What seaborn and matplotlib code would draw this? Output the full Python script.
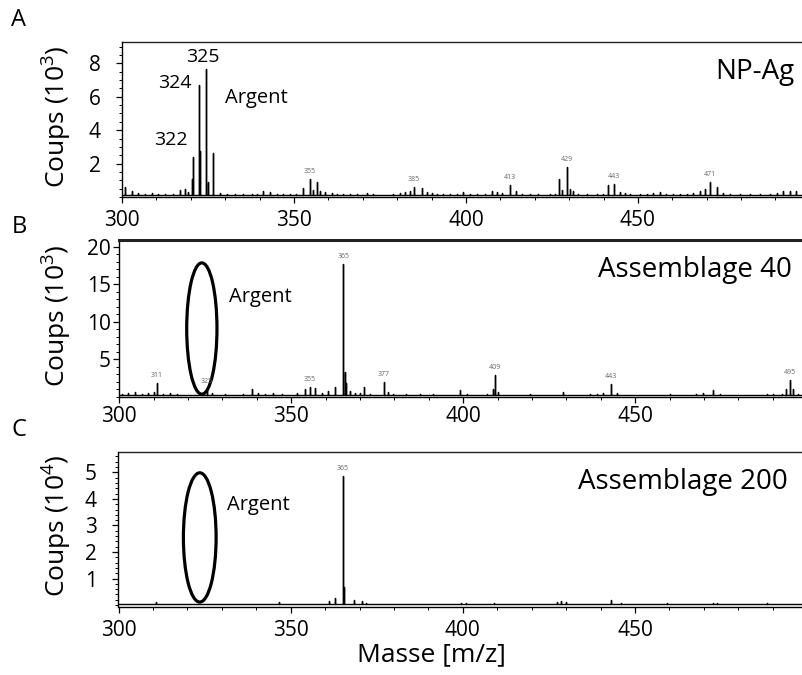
import matplotlib
matplotlib.use("Agg")
import matplotlib.pyplot as plt
import numpy as np
import pandas as pd
import seaborn as sns
from matplotlib.patches import Ellipse
from matplotlib.ticker import MultipleLocator, FixedLocator

# Spectre A : NP-Ag (coups en 10^3)
mz_a = [300.9, 302.8, 304.7, 306.7, 308.6, 310.6, 312.5, 314.9, 316.9, 318.3,
        319.3, 320.4, 320.6, 322.5, 322.7, 324.3, 325.1, 326.5, 328.5, 330.4,
        332.8, 335.3, 337.7, 339.2, 341.1, 343.0, 345.0, 346.9, 348.8, 350.7,
        352.7, 354.7, 355.6, 356.7, 357.6, 359.0, 361.0, 362.4, 364.3, 366.3,
        368.2, 371.1, 373.1, 376.0, 378.9, 380.8, 382.3, 383.7, 384.9, 387.1,
        388.6, 390.0, 391.5, 393.4, 395.3, 397.3, 399.2, 401.2, 403.1, 405.5,
        407.5, 408.9, 410.4, 412.8, 414.7, 416.2, 418.6, 421.0, 424.4, 425.9,
        427.0, 427.8, 429.3, 430.2, 431.2, 432.6, 435.1, 438.0, 439.9, 441.4,
        443.0, 444.8, 446.2, 447.7, 450.6, 452.5, 454.5, 456.4, 458.3, 460.3,
        462.2, 464.2, 466.1, 468.0, 469.5, 470.9, 472.9, 474.8, 476.7, 479.7,
        482.6, 485.5, 488.4, 490.3, 492.2, 494.2, 496.1]
counts_a = [0.6, 0.35, 0.25, 0.2, 0.25, 0.2, 0.2, 0.2, 0.4, 0.45,
            0.3, 1.1, 2.4, 6.7, 2.75, 7.66, 0.9, 2.65, 0.25, 0.2,
            0.2, 0.2, 0.2, 0.2, 0.35, 0.3, 0.2, 0.2, 0.2, 0.15,
            0.55, 1.08, 0.4, 0.92, 0.35, 0.3, 0.25, 0.2, 0.2, 0.15,
            0.2, 0.25, 0.15, 0.1, 0.15, 0.25, 0.3, 0.35, 0.58, 0.55,
            0.3, 0.25, 0.2, 0.2, 0.2, 0.15, 0.3, 0.2, 0.15, 0.15,
            0.35, 0.3, 0.25, 0.72, 0.35, 0.2, 0.15, 0.15, 0.15, 0.2,
            1.08, 0.4, 1.81, 0.45, 0.35, 0.2, 0.15, 0.15, 0.2, 0.7,
            0.8, 0.3, 0.25, 0.15, 0.15, 0.2, 0.25, 0.3, 0.2, 0.2,
            0.15, 0.2, 0.25, 0.35, 0.45, 0.92, 0.6, 0.25, 0.15, 0.15,
            0.15, 0.15, 0.2, 0.25, 0.35, 0.35, 0.35]
tags_a = ["355", "385", "413", "429", "443", "471"]
tag_mz_a = [354.7, 384.9, 412.8, 429.3, 443.0, 470.9]

# Spectre B : Assemblage 40 (coups en 10^3)
mz_b = [300.7, 302.6, 304.6, 306.5, 308.4, 310.2, 311.0, 312.8, 314.7, 316.7,
        318.1, 320.6, 324.0, 325.4, 326.9, 328.8, 330.7, 333.1, 336.0, 338.5,
        340.4, 342.4, 344.8, 347.2, 349.1, 351.6, 354.0, 355.4, 356.9, 358.8,
        360.8, 362.7, 365.1, 365.5, 366.0, 367.1, 368.5, 370.0, 371.2, 372.9,
        374.8, 377.0, 378.2, 379.7, 381.6, 383.5, 385.5, 387.4, 389.4, 391.3,
        393.2, 395.2, 397.1, 399.0, 401.0, 402.9, 404.9, 406.8, 408.7, 409.2,
        410.2, 412.1, 414.5, 417.0, 419.4, 421.8, 424.2, 426.7, 429.1, 431.0,
        433.0, 434.9, 436.8, 438.8, 440.7, 442.9, 444.6, 446.5, 448.5, 450.4,
        452.3, 454.3, 456.2, 458.1, 460.1, 462.0, 464.0, 465.9, 467.8, 469.8,
        472.7, 474.6, 476.6, 478.5, 480.4, 482.4, 484.3, 486.3, 488.2, 490.1,
        492.6, 494.0, 495.0, 495.9, 497.4]
counts_b = [0.4, 0.5, 0.6, 0.4, 0.5, 0.6, 1.8, 0.4, 0.5, 0.4,
            0.3, 0.3, 0.4, 1.0, 0.5, 0.3, 0.4, 0.3, 0.4, 1.0,
            0.5, 0.4, 0.5, 0.4, 0.3, 0.5, 1.0, 1.35, 1.2, 0.5,
            0.8, 1.3, 17.7, 3.3, 1.9, 0.8, 0.5, 0.5, 1.3, 0.4,
            0.3, 2.0, 0.6, 0.4, 0.3, 0.4, 0.3, 0.4, 0.3, 0.4,
            0.3, 0.3, 0.3, 0.9, 0.4, 0.3, 0.3, 0.4, 1.0, 2.9,
            0.6, 0.3, 0.3, 0.3, 0.4, 0.3, 0.3, 0.3, 0.7, 0.3,
            0.3, 0.3, 0.4, 0.4, 0.5, 1.7, 0.5, 0.3, 0.3, 0.3,
            0.3, 0.3, 0.3, 0.3, 0.4, 0.3, 0.3, 0.3, 0.4, 0.5,
            0.9, 0.4, 0.3, 0.3, 0.3, 0.3, 0.3, 0.3, 0.4, 0.4,
            0.4, 1.1, 2.2, 1.0, 0.4]
tags_b = ["311", "325", "355", "365", "377", "409", "443", "495"]
tag_mz_b = [311.0, 325.4, 355.4, 365.1, 377.0, 409.2, 442.9, 495.0]

# Spectre C : Assemblage 200 (coups en 10^4)
mz_c = [311.0, 338.0, 346.7, 361.0, 362.9, 365.1, 365.5, 368.3, 370.7, 372.0,
        384.5, 387.5, 399.5, 401.0, 409.2, 427.4, 428.5, 430.0, 443.0, 445.9,
        459.2, 472.8, 473.8, 488.2]
counts_c = [0.1, 0.05, 0.1, 0.15, 0.25, 4.86, 0.7, 0.2, 0.15, 0.08,
            0.05, 0.05, 0.08, 0.08, 0.08, 0.12, 0.15, 0.1, 0.2, 0.08,
            0.08, 0.08, 0.08, 0.08]
tags_c = ["365"]
tag_mz_c = [365.1]

floors = [0.12, 0.25, 0.03]
titles = ["NP-Ag", "Assemblage 40", "Assemblage 200"]
letters = ["A", "B", "C"]
ylabels = ["Coups (10$^{3}$)", "Coups (10$^{3}$)", "Coups (10$^{4}$)"]
yticks = [[2, 4, 6, 8], [5, 10, 15, 20], [1, 2, 3, 4, 5]]
xticks = [300, 350, 400, 450]


def stick_profile(mz, counts, floor, xmax):
    xs, ys = [300.0], [floor]
    for m, v in zip(mz, counts):
        xs += [m, m, m]
        ys += [floor, v, floor]
    xs.append(xmax)
    ys.append(floor)
    return pd.DataFrame({"mz": xs, "counts": ys})


sns.set_theme(style="ticks")
plt.rcParams["font.family"] = ["Open Sans", "DejaVu Sans"]
plt.rcParams["mathtext.fontset"] = "custom"
plt.rcParams["mathtext.rm"] = "Open Sans"
plt.rcParams["mathtext.it"] = "Open Sans:italic"
plt.rcParams["mathtext.bf"] = "Open Sans:bold"
plt.rcParams["text.color"] = "black"
plt.rcParams["axes.labelcolor"] = "black"
plt.rcParams["xtick.color"] = "black"
plt.rcParams["ytick.color"] = "black"

W, H = 803, 675
fig = plt.figure(figsize=(W / 100, H / 100), dpi=100)

# position des axes en pixels : gauche, bas, haut ; limites
panels = [
    dict(left=122, bottom=197, top=42, xmax=498.0, ylim=(0, 9.28), minor=0.5,
         pad=11, xpad=5, top_lw=1.0, title_xy=(0.988, 0.806)),
    dict(left=119.3, bottom=396.8, top=240, xmax=498.8, ylim=(0, 20.9), minor=1,
         pad=1.5, xpad=2, top_lw=2.2, title_xy=(0.983, 0.809)),
    dict(left=118.5, bottom=606.7, top=451.7, xmax=498.8, ylim=(-0.06, 5.78), minor=0.2,
         pad=11, xpad=5, top_lw=1.0, title_xy=(0.978, 0.806)),
]
datasets = [(mz_a, counts_a, tags_a, tag_mz_a),
            (mz_b, counts_b, tags_b, tag_mz_b),
            (mz_c, counts_c, tags_c, tag_mz_c)]
letter_y = [20, 227, 430]

axes = []
for i, (p, (mz, cnt, tags, tag_mz)) in enumerate(zip(panels, datasets)):
    ax = fig.add_axes([p["left"] / W, 1 - p["bottom"] / H,
                       1 - p["left"] / W, (p["bottom"] - p["top"]) / H])
    df = stick_profile(mz, cnt, floors[i], p["xmax"])
    sns.lineplot(data=df, x="mz", y="counts", sort=False, estimator=None,
                 color="black", linewidth=1.0, ax=ax)
    ax.set_xlim(300, p["xmax"])
    ax.set_ylim(*p["ylim"])
    ax.set_xlabel("")
    ax.set_ylabel("")
    ax.xaxis.set_major_locator(FixedLocator(xticks))
    ax.xaxis.set_minor_locator(MultipleLocator(10))
    ax.yaxis.set_major_locator(FixedLocator(yticks[i]))
    ax.yaxis.set_minor_locator(MultipleLocator(p["minor"]))
    ax.tick_params(axis="both", which="major", direction="out", length=4.5,
                   width=0.9, color="black", labelsize=15, labelcolor="black")
    ax.tick_params(axis="both", which="minor", direction="out", length=2.2,
                   width=0.7, color="black")
    ax.tick_params(axis="y", which="major", pad=p["pad"])
    ax.tick_params(axis="x", which="major", pad=p["xpad"])
    for side in ["left", "bottom"]:
        ax.spines[side].set_color("black")
        ax.spines[side].set_linewidth(1.0)
    ax.spines["top"].set_visible(True)
    ax.spines["top"].set_color("#222222")
    ax.spines["top"].set_linewidth(p["top_lw"])
    ax.spines["right"].set_visible(False)

    # petites étiquettes de pics
    lookup = dict(zip(mz, cnt))
    span = p["ylim"][1] - p["ylim"][0]
    for t, m in zip(tags, tag_mz):
        ax.text(m, lookup[m] + span * 0.025, t, fontsize=5, color="#666666",
                ha="center", va="bottom")

    ax.text(p["title_xy"][0], p["title_xy"][1], titles[i], transform=ax.transAxes,
            fontsize=20, ha="right", va="center", color="black")
    fig.text(19 / W, 1 - letter_y[i] / H, letters[i], fontsize=17,
             ha="center", va="center")
    ymid = (p["bottom"] + p["top"]) / 2 - 3
    fig.text(57 / W, 1 - ymid / H, ylabels[i], fontsize=19, rotation=90,
             ha="center", va="center")
    axes.append(ax)

ax_a, ax_b, ax_c = axes

# annotations de l'argent
ax_a.text(323.5, 8.4, "325", fontsize=14, ha="center", va="center")
ax_a.text(315.3, 6.8, "324", fontsize=14, ha="center", va="center")
ax_a.text(314.2, 3.41, "322", fontsize=14, ha="center", va="center")
ax_a.text(329.9, 5.93, "Argent", fontsize=14.5, ha="left", va="center")
ax_b.text(331.9, 13.3, "Argent", fontsize=14.5, ha="left", va="center")
ax_c.text(331.6, 3.77, "Argent", fontsize=14.5, ha="left", va="center")

ax_b.add_patch(Ellipse((324.0, 9.1), 8.8, 17.5, fill=False, edgecolor="black",
                       linewidth=2.3, clip_on=False))
ax_c.add_patch(Ellipse((323.6, 2.55), 9.5, 4.87, fill=False, edgecolor="black",
                       linewidth=2.3, clip_on=False))

fig.text(431.5 / W, 1 - 655 / H, "Masse [m/z]", fontsize=19, ha="center", va="center")

fig.savefig("out.png", dpi=100)
